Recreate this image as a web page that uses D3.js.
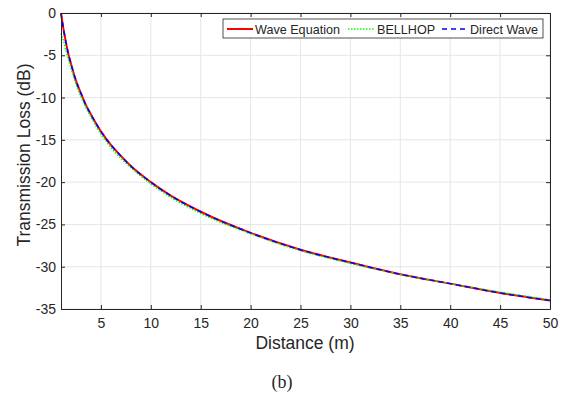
<!DOCTYPE html>
<html>
<head>
<meta charset="utf-8">
<script src="https://cdn.jsdelivr.net/npm/d3@7"></script>
<style>
  body { margin: 0; background: #fff; }
  text { font-family: "Liberation Sans", Arial, sans-serif; fill: #262626; }
</style>
</head>
<body>
<div id="chart"></div>
<script>
// values
const distance = [1, 1.1, 1.25, 1.5, 1.75, 2, 2.5, 3, 3.5, 4, 5, 6, 7, 8, 10, 12, 15, 20, 25, 30, 35, 40, 45, 50];
const waveEquation = [0, -0.8, -1.9, -3.5, -4.9, -6.0, -8.0, -9.5, -10.9, -12.0, -14.0, -15.6, -16.9, -18.1, -20.0, -21.6, -23.5, -26.0, -28.0, -29.5, -30.9, -32.0, -33.1, -34.0];
const bellhop = [-2.4, -2.8, -3.3, -4.5, -5.5, -6.5, -8.4, -9.9, -11.2, -12.3, -14.3, -15.9, -17.2, -18.3, -20.2, -21.8, -23.7, -26.1, -28.1, -29.6, -30.9, -32.0, -33.0, -33.9];
const directWave = [0, -0.8, -1.9, -3.5, -4.9, -6.0, -8.0, -9.5, -10.9, -12.0, -14.0, -15.6, -16.9, -18.1, -20.0, -21.6, -23.5, -26.0, -28.0, -29.5, -30.9, -32.0, -33.1, -34.0];
const xTicks = [5, 10, 15, 20, 25, 30, 35, 40, 45, 50];
const yTicks = [0, -5, -10, -15, -20, -25, -30, -35];

const series = [
  { name: 'Wave Equation', values: waveEquation, color: '#ff0000', width: 2, dash: null },
  { name: 'BELLHOP', values: bellhop, color: '#00ff00', width: 1.5, dash: '1.5,1.5' },
  { name: 'Direct Wave', values: directWave, color: '#0000ff', width: 1.5, dash: '5,4' }
];

const W = 566, H = 394;
const margin = { top: 13, right: 16, bottom: 85, left: 61 };
const width = W - margin.left - margin.right;
const height = H - margin.top - margin.bottom;

const svg = d3.select('#chart').append('svg')
  .attr('width', W)
  .attr('height', H);

const g = svg.append('g')
  .attr('transform', `translate(${margin.left},${margin.top})`);

const x = d3.scaleLinear().domain([1, 50]).range([0, width]);
const y = d3.scaleLinear().domain([-35, 0]).range([height, 0]);

// grid
g.append('g').selectAll('line').data(xTicks).enter().append('line')
  .attr('x1', d => x(d)).attr('x2', d => x(d))
  .attr('y1', 0).attr('y2', height)
  .attr('stroke', '#e6e6e6').attr('stroke-width', 1);
g.append('g').selectAll('line').data(yTicks).enter().append('line')
  .attr('x1', 0).attr('x2', width)
  .attr('y1', d => y(d)).attr('y2', d => y(d))
  .attr('stroke', '#e6e6e6').attr('stroke-width', 1);

// lines
const line = d3.line()
  .x((d, i) => x(distance[i]))
  .y(d => y(d))
  .curve(d3.curveMonotoneX);

series.forEach(s => {
  g.append('path')
    .datum(s.values)
    .attr('d', line)
    .attr('fill', 'none')
    .attr('stroke', s.color)
    .attr('stroke-width', s.width)
    .attr('stroke-dasharray', s.dash);
});

// axes (ticks inward, MATLAB box)
const axisStyle = sel => {
  sel.select('.domain').attr('stroke', '#262626');
  sel.selectAll('.tick line').attr('stroke', '#262626');
  sel.selectAll('text').style('font-size', '14px').attr('fill', '#404040');
};
const plain = d => String(d);

g.append('g')
  .attr('transform', `translate(0,${height})`)
  .call(d3.axisBottom(x).tickValues(xTicks).tickFormat(plain).tickSizeInner(-4).tickSizeOuter(0).tickPadding(9))
  .call(axisStyle);
g.append('g')
  .call(d3.axisLeft(y).tickValues(yTicks).tickFormat(plain).tickSizeInner(-4).tickSizeOuter(0).tickPadding(5))
  .call(axisStyle);
g.append('g')
  .call(d3.axisTop(x).tickValues(xTicks).tickSizeInner(-4).tickSizeOuter(0).tickFormat(''))
  .call(axisStyle);
g.append('g')
  .attr('transform', `translate(${width},0)`)
  .call(d3.axisRight(y).tickValues(yTicks).tickSizeInner(-4).tickSizeOuter(0).tickFormat(''))
  .call(axisStyle);

// axis labels
svg.append('text')
  .attr('x', 305)
  .attr('y', 349)
  .attr('text-anchor', 'middle')
  .style('font-size', '17.5px')
  .text('Distance (m)');

svg.append('text')
  .attr('transform', 'translate(30,155) rotate(-90)')
  .attr('text-anchor', 'middle')
  .style('font-size', '17.5px')
  .text('Transmission Loss (dB)');

svg.append('text')
  .attr('x', 282)
  .attr('y', 388)
  .attr('text-anchor', 'middle')
  .style('font-family', '"Liberation Serif", "Times New Roman", serif')
  .style('font-size', '18px')
  .attr('fill', '#000')
  .text('(b)');

// legend
const legend = svg.append('g').attr('transform', 'translate(223,19)');
legend.append('rect')
  .attr('width', 320).attr('height', 19)
  .attr('fill', '#fff').attr('stroke', '#262626').attr('stroke-width', 0.8);

const legendX = [4, 125, 219];
const labelX = [32, 154, 247];
series.forEach((s, i) => {
  legend.append('line')
    .attr('x1', legendX[i]).attr('x2', legendX[i] + 26)
    .attr('y1', 10).attr('y2', 10)
    .attr('stroke', s.color)
    .attr('stroke-width', s.width)
    .attr('stroke-dasharray', s.dash);
  legend.append('text')
    .attr('x', labelX[i]).attr('y', 14.5)
    .style('font-size', '12.6px')
    .attr('fill', '#000')
    .text(s.name);
});
</script>
</body>
</html>
